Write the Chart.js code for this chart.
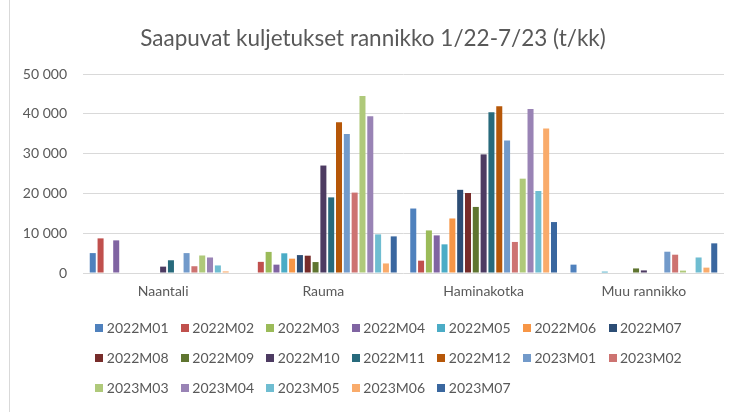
<!DOCTYPE html>
<html>
<head>
<meta charset="utf-8">
<script src="https://cdn.jsdelivr.net/npm/chart.js@4.4.0/dist/chart.umd.min.js"></script>
<style>
  html, body { margin: 0; padding: 0; background: #fff; }
  #wrap { position: relative; width: 738px; height: 412px; }
  #edge { position: absolute; left: 9px; top: 0; width: 1px; height: 412px; background: #d9d9d9; }
</style>
</head>
<body>
<div id="wrap">
  <canvas id="chart" width="738" height="412"></canvas>
  <div id="edge"></div>
</div>
<script>
// Data (t/kk), one array per port, one value per month
const categories = ['Naantali', 'Rauma', 'Haminakotka', 'Muu rannikko'];
const months = ['2022M01', '2022M02', '2022M03', '2022M04', '2022M05', '2022M06', '2022M07',
    '2022M08', '2022M09', '2022M10', '2022M11', '2022M12', '2023M01', '2023M02',
    '2023M03', '2023M04', '2023M05', '2023M06', '2023M07'];
const naantali = [5000, 8700, null, 8200, null, null, null, null, null, 1600, 3200, null,
    5000, 1700, 4400, 3900, 1900, 400, null];
const rauma = [null, 2800, 5300, 2100, 4950, 3600, 4500, 4350, 2750, 27000, 19000, 37900,
    34900, 20200, 44500, 39400, 9700, 2400, 9200];
const haminakotka = [16200, 3100, 10700, 9450, 7200, 13700, 20900, 20100, 16600, 29800, 40400, 41900,
    33300, 7800, 23700, 41200, 20600, 36300, 12800];
const muuRannikko = [2100, null, null, null, 350, null, null, null, 1150, 650, null, null,
    5350, 4600, 600, null, 3900, 1350, 7450];
const yTicks = [0, 10000, 20000, 30000, 40000, 50000];

const colors = ['#4f81bd', '#c0504d', '#9bbb59', '#8064a2', '#4bacc6', '#f79646', '#2c4d75',
    '#772c2a', '#5f7530', '#4d3b62', '#276a7c', '#b65708', '#729aca', '#cd7371',
    '#afc97a', '#9983b5', '#6fbdd1', '#f9ab6b', '#3a679f'];

const textColor = '#595959';
Chart.defaults.font.family = 'Lato, "Open Sans", sans-serif';

// small square used as legend marker
function squareIcon(color) {
    const c = document.createElement('canvas');
    c.width = 8;
    c.height = 8;
    const g = c.getContext('2d');
    g.fillStyle = color;
    g.fillRect(0, 0, 8, 8);
    return c;
}
const icons = colors.map(squareIcon);

const datasets = months.map((m, i) => ({
    label: m,
    data: [naantali[i], rauma[i], haminakotka[i], muuRannikko[i]],
    backgroundColor: colors[i],
    borderWidth: 0,
    categoryPercentage: 0.927,
    barPercentage: 0.77
}));

const fmt = v => String(v).replace(/\B(?=(\d{3})+(?!\d))/g, ' ');

new Chart(document.getElementById('chart').getContext('2d'), {
    type: 'bar',
    data: { labels: categories, datasets: datasets },
    options: {
        responsive: false,
        animation: false,
        layout: { padding: { left: 22, right: 14, top: 0, bottom: 7 } },
        scales: {
            x: {
                grid: { display: false, drawTicks: false },
                border: { display: false },
                ticks: { color: textColor, font: { size: 14 }, padding: 10 },
                afterFit(scale) { scale.height = 32; }
            },
            y: {
                min: 0,
                max: 50000,
                grid: { color: '#d9d9d9', drawTicks: false },
                border: { display: false },
                ticks: { color: textColor, font: { size: 14 }, padding: 16, callback: fmt },
                afterBuildTicks(scale) { scale.ticks = yTicks.map(v => ({ value: v })); },
                afterFit(scale) { scale.width = 61; }
            }
        },
        plugins: {
            title: {
                display: true,
                text: 'Saapuvat kuljetukset rannikko 1/22-7/23 (t/kk)',
                color: textColor,
                font: { size: 22.5, weight: 'normal' },
                padding: { top: 25, bottom: 22 }
            },
            legend: {
                position: 'bottom',
                align: 'start',
                fullSize: false,
                labels: {
                    color: textColor,
                    font: { size: 14 },
                    padding: 16,
                    usePointStyle: true,
                    pointStyleWidth: 0.8,
                    generateLabels(chart) {
                        const items = Chart.defaults.plugins.legend.labels.generateLabels(chart);
                        items.forEach((it, i) => { it.pointStyle = icons[i]; });
                        return items;
                    }
                }
            },
            tooltip: { enabled: false }
        }
    }
});
</script>
</body>
</html>
